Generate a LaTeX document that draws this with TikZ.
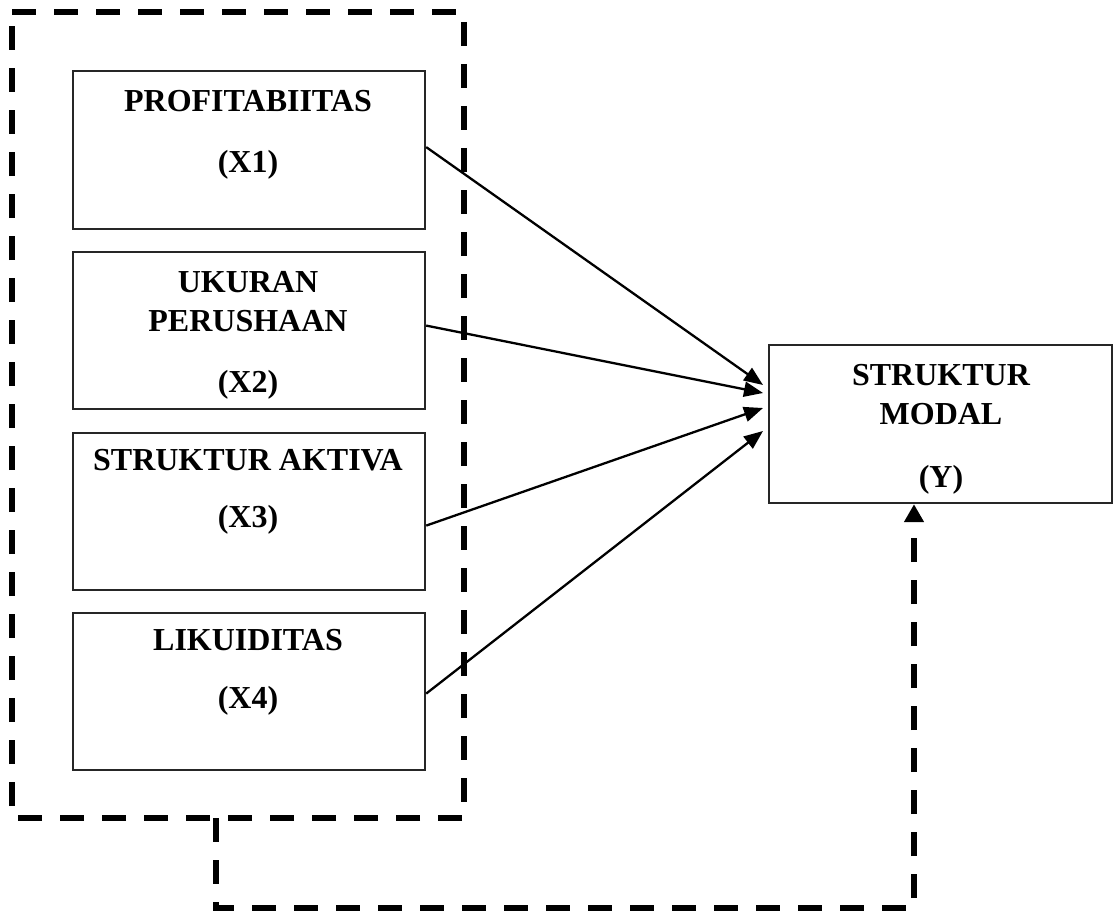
\documentclass[tikz,border=0pt]{standalone}
\usepackage{fontspec}
\setmainfont{Liberation Serif}
\usetikzlibrary{arrows.meta,calc}
\begin{document}
\begin{tikzpicture}[x=1pt,y=-1pt,
  varbox/.style={draw=black!85,line width=2.2pt,rectangle,inner sep=0pt,anchor=north west},
  lbl/.style={font=\fontsize{32}{38}\selectfont\bfseries,anchor=base,inner sep=0pt},
  arr/.style={line width=2.3pt,-{Triangle[length=19pt,width=15pt]}},
  dashbox/.style={line width=5.5pt,dash pattern=on 24pt off 18pt},
  dasharr/.style={line width=5.5pt,dash pattern=on 24pt off 18pt,-{Triangle[length=18pt,width=19pt]}}]
\useasboundingbox (0,0) rectangle (1115,912);
% group
\draw[dashbox] (12,12) -- (464,12) -- (464,818) -- (12,818) -- cycle;
% boxes
\node[varbox,minimum width=352pt,minimum height=158pt] (x1) at (72,70) {};
\node[varbox,minimum width=352pt,minimum height=157pt] (x2) at (72,251) {};
\node[varbox,minimum width=352pt,minimum height=157pt] (x3) at (72,432) {};
\node[varbox,minimum width=352pt,minimum height=157pt] (x4) at (72,612) {};
\node[varbox,minimum width=343pt,minimum height=158pt] (y) at (768,344) {};
% labels
\node[lbl] (x1a) at (248,112) {PROFITABIITAS};
\node[lbl] (x1b) at (248,172) {(X1)};
\node[lbl] (x2a) at (248,292) {UKURAN};
\node[lbl] (x2b) at (248,331) {PERUSHAAN};
\node[lbl] (x2c) at (248,392) {(X2)};
\node[lbl] (x3a) at (248,470) {STRUKTUR AKTIVA};
\node[lbl] (x3b) at (248,527) {(X3)};
\node[lbl] (x4a) at (248,650) {LIKUIDITAS};
\node[lbl] (x4b) at (248,708) {(X4)};
\node[lbl] (ya) at (941,385) {STRUKTUR};
\node[lbl] (yb) at (941,424) {MODAL};
\node[lbl] (yc) at (941,487) {(Y)};
% arrow targets
\coordinate (t1) at ($(y.north west)+(-5,41)$);
\coordinate (t2) at ($(y.north west)+(-5,49)$);
\coordinate (t3) at ($(y.north west)+(-5,64)$);
\coordinate (t4) at ($(y.north west)+(-5,87)$);
\draw[arr] ($(x1.east)+(0,-3)$) -- (t1);
\draw[arr] ($(x2.east)+(0,-5)$) -- (t2);
\draw[arr] ($(x3.east)+(0,14)$) -- (t3);
\draw[arr] ($(x4.east)+(0,2)$) -- (t4);
% dashed feedback
\coordinate (g) at (216,818);
\coordinate (c1) at (216,908);
\coordinate (c2) at (914,908);
\draw[dasharr] (g) -- (c1) -- (c2) -- (y.south -| c2);
\end{tikzpicture}
\end{document}
